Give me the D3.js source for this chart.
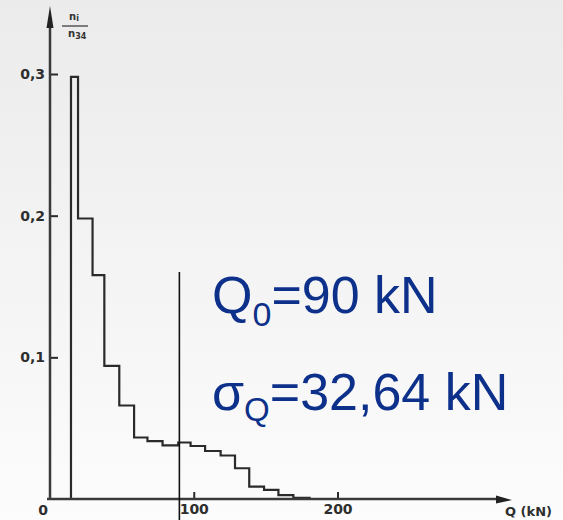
<!DOCTYPE html>
<html>
<head>
<meta charset="utf-8">
<script src="https://cdn.jsdelivr.net/npm/d3@7"></script>
<style>
    html, body { margin: 0; padding: 0; background: #f4f4f4; }
    svg { display: block; }
</style>
</head>
<body>
<script>
// Histogram of Q (kN)
const binEdges = [14.6, 19.5, 29.6, 37.8, 48.2, 58.5, 67.8, 78.3, 89.2, 97.8, 107.9, 118.7, 128.7, 138.6, 148.9, 158.9, 169.3, 180.6];
const frequencies = [0.298, 0.198, 0.158, 0.094, 0.066, 0.0434, 0.0409, 0.0378, 0.0399, 0.0374, 0.0339, 0.0307, 0.0217, 0.0087, 0.0064, 0.0028, 0.0009];
const xTickValues = [100, 200];
const yTickValues = [0.1, 0.2, 0.3];
const meanQ = 90;
const meanLabel = ['Q', '0', '=90 kN'];
const sigmaLabel = ['\u03C3', 'Q', '=32,64 kN'];
const xAxisLabel = 'Q (kN)';

const config = {
    width: 563,
    height: 520,
    originX: 50,
    originY: 499,
    inkColor: '#2a2a2a',
    textColor: '#0d318a'
};

const svg = d3.select('body')
    .append('svg')
    .attr('width', config.width)
    .attr('height', config.height);

// Background: light grey fading to white
const grad = svg.append('defs').append('linearGradient')
    .attr('id', 'bg')
    .attr('x1', 0).attr('y1', 0).attr('x2', 0).attr('y2', 1);
grad.append('stop').attr('offset', '0%').attr('stop-color', '#ebebeb');
grad.append('stop').attr('offset', '100%').attr('stop-color', '#fcfcfc');
svg.append('rect')
    .attr('width', config.width)
    .attr('height', config.height)
    .attr('fill', 'url(#bg)');

// Scales
const xScale = d3.scaleLinear()
    .domain([0, 200])
    .range([config.originX, 337.5]);

const yScale = d3.scaleLinear()
    .domain([0, 0.3])
    .range([config.originY, 74]);

// Histogram outline (step path)
const outline = d3.path();
outline.moveTo(xScale(binEdges[0]), yScale(0));
frequencies.forEach((f, i) => {
    outline.lineTo(xScale(binEdges[i]), yScale(f));
    outline.lineTo(xScale(binEdges[i + 1]), yScale(f));
});
outline.lineTo(xScale(binEdges[binEdges.length - 1]), yScale(0));

svg.append('path')
    .attr('d', outline.toString())
    .attr('fill', 'none')
    .attr('stroke', config.inkColor)
    .attr('stroke-width', 2.2);

// Y axis
const yAxis = svg.append('g')
    .attr('transform', `translate(${config.originX}, 0)`)
    .call(d3.axisLeft(yScale)
        .tickValues(yTickValues)
        .tickSize(-8)
        .tickPadding(5)
        .tickFormat(d => d.toFixed(1).replace('.', ',')));

yAxis.select('.domain').remove();
yAxis.selectAll('.tick line')
    .attr('stroke', config.inkColor)
    .attr('stroke-width', 2);
yAxis.selectAll('.tick text')
    .attr('font-family', 'DejaVu Sans')
    .attr('font-weight', 'bold')
    .attr('font-size', 14)
    .attr('fill', '#2e2e2e');

svg.append('line')
    .attr('x1', config.originX).attr('x2', config.originX)
    .attr('y1', 20).attr('y2', config.originY + 1)
    .attr('stroke', '#3a3a3a')
    .attr('stroke-width', 2.5);

svg.append('path')
    .attr('d', `M${config.originX},6 L${config.originX - 3.5},28 L${config.originX + 3.5},28 Z`)
    .attr('fill', '#222');

// X axis
const xAxis = svg.append('g')
    .attr('transform', `translate(0, ${config.originY})`)
    .call(d3.axisBottom(xScale)
        .tickValues(xTickValues)
        .tickSize(-7)
        .tickPadding(5));

xAxis.select('.domain').remove();
xAxis.selectAll('.tick line')
    .attr('stroke', config.inkColor)
    .attr('stroke-width', 2);
xAxis.selectAll('.tick text')
    .attr('font-family', 'DejaVu Sans')
    .attr('font-weight', 'bold')
    .attr('font-size', 14)
    .attr('fill', '#2e2e2e');

svg.append('line')
    .attr('x1', config.originX - 3).attr('x2', 500)
    .attr('y1', config.originY).attr('y2', config.originY)
    .attr('stroke', '#3a3a3a')
    .attr('stroke-width', 2.5);

svg.append('path')
    .attr('d', `M512,${config.originY + 1} L496,${config.originY - 3.5} L496,${config.originY + 4.5} Z`)
    .attr('fill', '#222');

svg.append('text')
    .attr('x', 43)
    .attr('y', 515)
    .attr('text-anchor', 'middle')
    .attr('font-family', 'DejaVu Sans')
    .attr('font-weight', 'bold')
    .attr('font-size', 14)
    .attr('fill', '#2e2e2e')
    .text('0');

svg.append('text')
    .attr('x', 505)
    .attr('y', 516)
    .attr('font-family', 'DejaVu Sans')
    .attr('font-weight', 'bold')
    .attr('font-size', 13)
    .attr('fill', '#2e2e2e')
    .text(xAxisLabel);

// Y axis label: n_i / n_34
const yLabel = svg.append('g')
    .attr('font-family', 'DejaVu Sans')
    .attr('font-weight', 'bold')
    .attr('fill', '#333');
yLabel.append('text')
    .attr('x', 69).attr('y', 20)
    .attr('font-size', 10)
    .text('n')
    .append('tspan').attr('font-size', 8).attr('dy', 1).text('i');
yLabel.append('line')
    .attr('x1', 62).attr('x2', 88)
    .attr('y1', 26).attr('y2', 26)
    .attr('stroke', '#333')
    .attr('stroke-width', 1.2);
yLabel.append('text')
    .attr('x', 68).attr('y', 37)
    .attr('font-size', 10)
    .text('n')
    .append('tspan').attr('font-size', 8).attr('dy', 2).text('34');

// Mean value marker
svg.append('line')
    .attr('x1', xScale(meanQ)).attr('x2', xScale(meanQ))
    .attr('y1', 272).attr('y2', config.height)
    .attr('stroke', '#111')
    .attr('stroke-width', 1.6);

// Annotations
function addLabel(parts, y, subDy, sizes) {
    const t = svg.append('text')
        .attr('x', 212)
        .attr('y', y)
        .attr('font-family', 'Liberation Sans, Arial, sans-serif')
        .attr('font-size', sizes[0])
        .attr('fill', config.textColor);
    t.append('tspan').text(parts[0]);
    t.append('tspan').attr('font-size', sizes[1]).attr('dy', subDy).text(parts[1]);
    t.append('tspan').attr('dy', -subDy).text(parts[2]);
}

addLabel(meanLabel, 313, 13, [52, 34]);
addLabel(sigmaLabel, 410, 11, [52, 33]);
</script>
</body>
</html>
